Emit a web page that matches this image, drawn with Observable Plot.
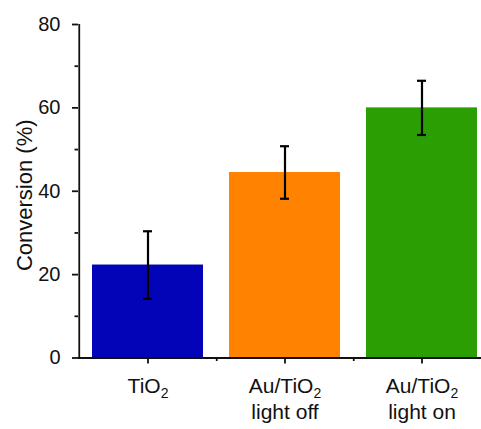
<!DOCTYPE html>
<html>
<head>
<meta charset="utf-8">
<script src="https://cdn.jsdelivr.net/npm/d3@7"></script>
<script src="https://cdn.jsdelivr.net/npm/@observablehq/plot@0.6"></script>
<style>
  html, body { margin: 0; padding: 0; background: #fff; }
  #chart svg { display: block; font-family: "Liberation Sans", Arial, sans-serif; }
</style>
</head>
<body>
<div id="chart"></div>
<script>
// Samples and their measured conversion with error (±)
const samples = ["TiO2", "Au/TiO2 off", "Au/TiO2 on"];
const tickLabels = ["TiO2", "Au/TiO2\nlight off", "Au/TiO2\nlight on"];
const conversion = [22.3, 44.5, 60.0];
const errors = [8.1, 6.3, 6.5];
const colors = ["#0303b8", "#ff8300", "#2a9e02"];
const yTicks = [0, 20, 40, 60, 80];
const yMinorTicks = [10, 30, 50, 70];

const data = samples.map((s, i) => ({
  sample: s,
  value: conversion[i],
  lo: conversion[i] - errors[i],
  hi: conversion[i] + errors[i]
}));

const W = 481, H = 429;
const left = 78, right = 490.5;
const step = (right - left) / samples.length;
const ink = "#111";

const chart = Plot.plot({
  width: W,
  height: H,
  marginLeft: left,
  marginRight: 0,
  marginTop: 24,
  marginBottom: 71.5,
  style: {fontFamily: "Liberation Sans, Arial, sans-serif", color: ink, overflow: "visible"},
  x: {type: "band", domain: samples, range: [left, right], paddingInner: 0.193, paddingOuter: 0.0965, align: 0.5, axis: null},
  y: {domain: [0, 80], axis: null},
  color: {domain: samples, range: colors},
  marks: [
    Plot.barY(data, {x: "sample", y: "value", fill: "sample"}),
    Plot.ruleX(data, {x: "sample", y1: "lo", y2: "hi", stroke: "#000", strokeWidth: 2.2}),
    Plot.tickY(data, {x: "sample", y: "lo", stroke: "#000", strokeWidth: 2.2, insetLeft: 51, insetRight: 51}),
    Plot.tickY(data, {x: "sample", y: "hi", stroke: "#000", strokeWidth: 2.2, insetLeft: 51, insetRight: 51}),
    // axis lines
    Plot.ruleX([samples[0]], {x: (d) => d, dx: -step / 2, y1: 0, y2: 80, stroke: ink, strokeWidth: 1.8}),
    Plot.ruleY([0], {stroke: ink, strokeWidth: 1.8}),
    // y axis: major and minor ticks
    Plot.axisY(yTicks, {tickSize: 6, tickPadding: 12, fontSize: 20, stroke: ink, strokeWidth: 1.8, label: null, fill: ink}),
    Plot.axisY(yMinorTicks, {tickSize: 3.5, text: null, stroke: ink, strokeWidth: 1.8, label: null}),
    // x axis: labels at the bars, minor ticks between them
    Plot.axisX({tickSize: 6, tickPadding: 10, fontSize: 21, lineHeight: 1.24, stroke: ink, strokeWidth: 1.8, label: null,
      tickFormat: (d) => tickLabels[samples.indexOf(d)], fill: ink}),
    Plot.axisX(samples.slice(0, 2), {tickSize: 3.5, text: null, dx: step / 2, stroke: ink, strokeWidth: 1.8, label: null}),
    Plot.text(["Conversion (%)"], {frameAnchor: "left", textAnchor: "middle", rotate: -90, dx: -54, dy: 4, fontSize: 22, fill: ink})
  ]
});

// Render "TiO2" with a subscript 2
function subscriptTiO2(root) {
  const nodes = Array.from(root.querySelectorAll("text, tspan")).filter(
    (n) => n.children.length === 0 && n.textContent.includes("TiO2")
  );
  for (const n of nodes) {
    const parts = n.textContent.split("TiO2");
    n.textContent = "";
    parts.forEach((p, i) => {
      n.appendChild(document.createTextNode(p));
      if (i < parts.length - 1) {
        n.appendChild(document.createTextNode("TiO"));
        const sub = document.createElementNS("http://www.w3.org/2000/svg", "tspan");
        sub.setAttribute("font-size", "14");
        sub.setAttribute("baseline-shift", "-6");
        sub.textContent = "2";
        n.appendChild(sub);
      }
    });
  }
}
subscriptTiO2(chart);

document.getElementById("chart").appendChild(chart);
</script>
</body>
</html>
